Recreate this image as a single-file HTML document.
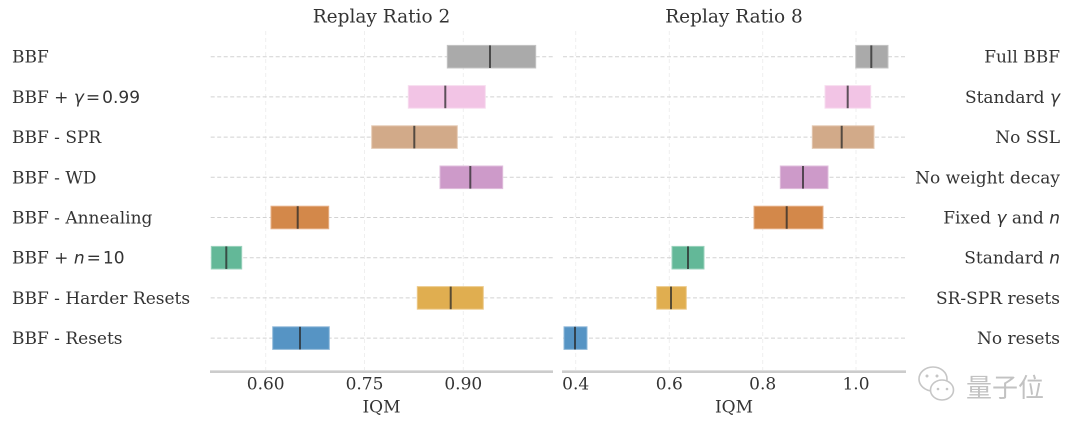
<!DOCTYPE html>
<html><head><meta charset="utf-8"><style>
html,body{margin:0;padding:0;background:#fff;}
svg{display:block;}
.lbl{font-family:"DejaVu Serif","Liberation Serif",serif;font-size:17px;fill:#333;}
.ttl{font-family:"DejaVu Serif","Liberation Serif",serif;font-size:18.5px;fill:#333;}
.tick{font-family:"DejaVu Serif","Liberation Serif",serif;font-size:17px;fill:#333;}
.m{font-family:"DejaVu Sans","Liberation Sans",sans-serif;}
.mi{font-family:"DejaVu Sans","Liberation Sans",sans-serif;font-style:italic;}
</style></head><body>
<svg width="1080" height="428" viewBox="0 0 1080 428" xmlns="http://www.w3.org/2000/svg">
<rect width="1080" height="428" fill="#fff"/>
<!-- vertical grid -->
<g stroke="#efefef" stroke-width="1" stroke-dasharray="4,3">
<line x1="265.7" y1="31" x2="265.7" y2="370"/>
<line x1="364.5" y1="31" x2="364.5" y2="370"/>
<line x1="463.3" y1="31" x2="463.3" y2="370"/>
<line x1="575.7" y1="31" x2="575.7" y2="370"/>
<line x1="669.3" y1="31" x2="669.3" y2="370"/>
<line x1="762.7" y1="31" x2="762.7" y2="370"/>
<line x1="856" y1="31" x2="856" y2="370"/>
</g>
<!-- horizontal dashed -->
<g stroke="#d2d2d2" stroke-width="1" stroke-dasharray="4,2.5">
<line x1="210.7" y1="56.7" x2="553" y2="56.7"/><line x1="563" y1="56.7" x2="905" y2="56.7"/>
<line x1="210.7" y1="96.9" x2="553" y2="96.9"/><line x1="563" y1="96.9" x2="905" y2="96.9"/>
<line x1="210.7" y1="137.1" x2="553" y2="137.1"/><line x1="563" y1="137.1" x2="905" y2="137.1"/>
<line x1="210.7" y1="177.3" x2="553" y2="177.3"/><line x1="563" y1="177.3" x2="905" y2="177.3"/>
<line x1="210.7" y1="217.5" x2="553" y2="217.5"/><line x1="563" y1="217.5" x2="905" y2="217.5"/>
<line x1="210.7" y1="257.7" x2="553" y2="257.7"/><line x1="563" y1="257.7" x2="905" y2="257.7"/>
<line x1="210.7" y1="297.9" x2="553" y2="297.9"/><line x1="563" y1="297.9" x2="905" y2="297.9"/>
<line x1="210.7" y1="338.1" x2="553" y2="338.1"/><line x1="563" y1="338.1" x2="905" y2="338.1"/>
</g>
<!-- boxes left -->
<g stroke-width="1">
<rect x="447.3" y="45.4" width="88.4" height="22.6" fill="#aaaaaa" stroke="#c4c4c4"/>
<rect x="408.3" y="85.6" width="77" height="22.6" fill="#f2c4e5" stroke="#f7dcef"/>
<rect x="371.7" y="125.8" width="85.6" height="22.6" fill="#d2aa89" stroke="#e4c9b2"/>
<rect x="440" y="166" width="62.7" height="22.6" fill="#cd9ac9" stroke="#e0bedd"/>
<rect x="271" y="206.2" width="57.7" height="22.6" fill="#d3884a" stroke="#e6b088"/>
<rect x="211.3" y="246.4" width="30.4" height="22.6" fill="#63b898" stroke="#9bd2bd"/>
<rect x="417.3" y="286.6" width="66" height="22.6" fill="#e0ae50" stroke="#ecca8a"/>
<rect x="272.7" y="326.8" width="56.6" height="22.6" fill="#5694c4" stroke="#8fb8d9"/>
<!-- right -->
<rect x="855.7" y="45.4" width="32.3" height="22.6" fill="#aaaaaa" stroke="#c4c4c4"/>
<rect x="825" y="85.6" width="45.7" height="22.6" fill="#f2c4e5" stroke="#f7dcef"/>
<rect x="812.3" y="125.8" width="61.7" height="22.6" fill="#d2aa89" stroke="#e4c9b2"/>
<rect x="780.3" y="166" width="47.7" height="22.6" fill="#cd9ac9" stroke="#e0bedd"/>
<rect x="754" y="206.2" width="69" height="22.6" fill="#d3884a" stroke="#e6b088"/>
<rect x="672" y="246.4" width="32" height="22.6" fill="#63b898" stroke="#9bd2bd"/>
<rect x="656.7" y="286.6" width="29.6" height="22.6" fill="#e0ae50" stroke="#ecca8a"/>
<rect x="564" y="326.8" width="23" height="22.6" fill="#5694c4" stroke="#8fb8d9"/>
</g>
<!-- medians -->
<g stroke="#2a2a2a" stroke-opacity="0.75" stroke-width="2">
<line x1="490" y1="45.4" x2="490" y2="68"/>
<line x1="445.3" y1="85.6" x2="445.3" y2="108.2"/>
<line x1="414.3" y1="125.8" x2="414.3" y2="148.4"/>
<line x1="470.3" y1="166" x2="470.3" y2="188.6"/>
<line x1="297.7" y1="206.2" x2="297.7" y2="228.8"/>
<line x1="226.3" y1="246.4" x2="226.3" y2="269"/>
<line x1="450.7" y1="286.6" x2="450.7" y2="309.2"/>
<line x1="300" y1="326.8" x2="300" y2="349.4"/>
<line x1="871.3" y1="45.4" x2="871.3" y2="68"/>
<line x1="847.7" y1="85.6" x2="847.7" y2="108.2"/>
<line x1="841.7" y1="125.8" x2="841.7" y2="148.4"/>
<line x1="803" y1="166" x2="803" y2="188.6"/>
<line x1="786.7" y1="206.2" x2="786.7" y2="228.8"/>
<line x1="688" y1="246.4" x2="688" y2="269"/>
<line x1="671" y1="286.6" x2="671" y2="309.2"/>
<line x1="575" y1="326.8" x2="575" y2="349.4"/>
</g>
<!-- axes -->
<line x1="210" y1="371.7" x2="553" y2="371.7" stroke="#cccccc" stroke-width="2.6"/>
<line x1="562" y1="371.7" x2="906" y2="371.7" stroke="#cccccc" stroke-width="2.6"/>
<!-- titles -->
<text class="ttl" x="381.5" y="22.7" text-anchor="middle">Replay Ratio 2</text>
<text class="ttl" x="734" y="22.7" text-anchor="middle">Replay Ratio 8</text>
<!-- tick labels -->
<g class="tick" text-anchor="middle">
<text x="265.7" y="389.5">0.60</text>
<text x="364.5" y="389.5">0.75</text>
<text x="463.3" y="389.5">0.90</text>
<text x="381.5" y="412.5">IQM</text>
<text x="575.7" y="389.5">0.4</text>
<text x="669.3" y="389.5">0.6</text>
<text x="762.7" y="389.5">0.8</text>
<text x="856" y="389.5">1.0</text>
<text x="734" y="412.5">IQM</text>
</g>
<!-- left labels -->
<g class="lbl">
<text x="12" y="62.7">BBF</text>
<text x="12" y="102.9">BBF + <tspan class="mi">γ</tspan><tspan class="m" dx="2">=</tspan><tspan class="m" dx="2">0.99</tspan></text>
<text x="12" y="143.1">BBF - SPR</text>
<text x="12" y="183.3">BBF - WD</text>
<text x="12" y="223.5">BBF - Annealing</text>
<text x="12" y="263.7">BBF + <tspan class="mi">n</tspan><tspan class="m" dx="2">=</tspan><tspan class="m" dx="2">10</tspan></text>
<text x="12" y="303.9">BBF - Harder Resets</text>
<text x="12" y="344.1">BBF - Resets</text>
</g>
<!-- right labels -->
<g class="lbl" text-anchor="end">
<text x="1060" y="62.7">Full BBF</text>
<text x="1060" y="102.9">Standard <tspan class="mi">γ</tspan></text>
<text x="1060" y="143.1">No SSL</text>
<text x="1060" y="183.3">No weight decay</text>
<text x="1060" y="223.5">Fixed <tspan class="mi">γ</tspan> and <tspan class="mi">n</tspan></text>
<text x="1060" y="263.7">Standard <tspan class="mi">n</tspan></text>
<text x="1060" y="303.9">SR-SPR resets</text>
<text x="1060" y="344.1">No resets</text>
</g>
<!-- watermark -->
<g fill="none" stroke="#c6c6c6" stroke-width="1.6">
<ellipse cx="933" cy="379" rx="14" ry="12"/>
<ellipse cx="942" cy="390" rx="11.5" ry="10" fill="#fff"/>
</g>
<g fill="#c6c6c6">
<circle cx="927" cy="376" r="1.5"/><circle cx="937" cy="376" r="1.5"/>
<circle cx="938" cy="389" r="1.3"/><circle cx="947" cy="389" r="1.3"/>
</g>
<text x="966" y="397" font-family="'Noto Sans CJK SC','WenQuanYi Zen Hei',sans-serif" font-size="26" fill="#c2c2c2">量子位</text>
</svg>
</body></html>
